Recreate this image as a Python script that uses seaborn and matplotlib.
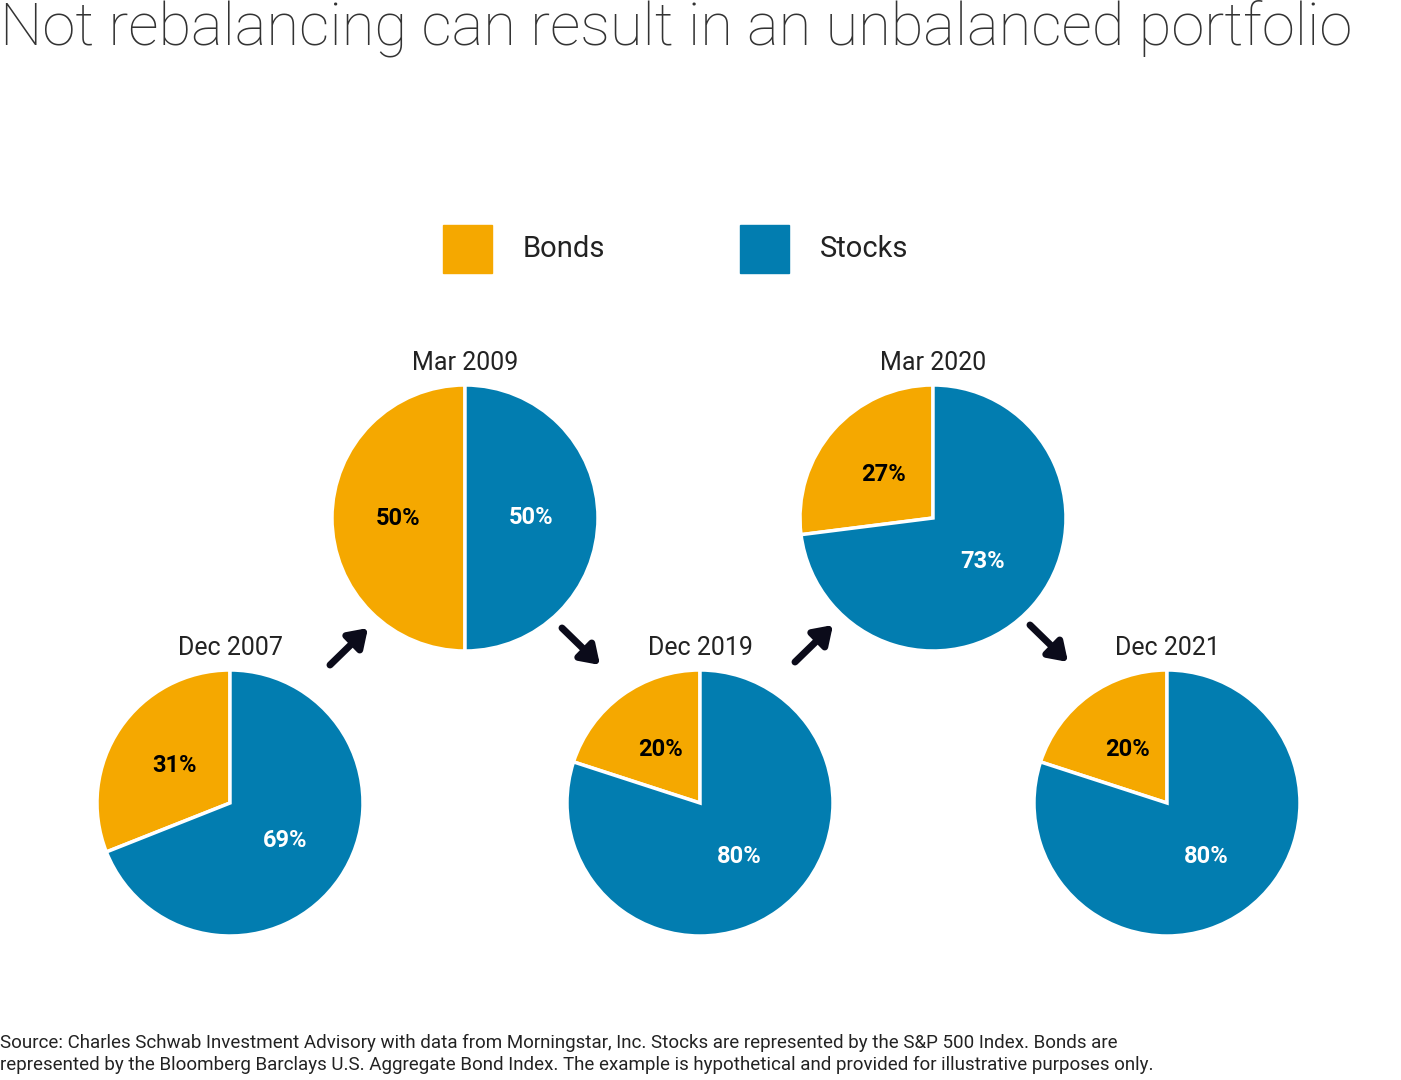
import matplotlib
matplotlib.use("Agg")
import matplotlib.pyplot as plt
import seaborn as sns

sns.set_theme(style="white")

dates = ["Dec 2007", "Mar 2009", "Dec 2019", "Mar 2020", "Dec 2021"]
bonds = [31, 50, 20, 27, 20]
stocks = [69, 50, 80, 73, 80]
series = ["Bonds", "Stocks"]
colors = ["#F5A800", "#027DB0"]

W, H = 1401, 1080
fig = plt.figure(figsize=(W / 100, H / 100), dpi=100)
ax = fig.add_axes([0, 0, 1, 1])
ax.set_xlim(0, W)
ax.set_ylim(0, H)
ax.set_aspect("equal")
ax.axis("off")

centers = [(230, 803), (465, 518), (700, 803), (933, 518), (1167, 803)]
R = 133
font = "Roboto"

for (cx, cy), d, b, s in zip(centers, dates, bonds, stocks):
    yc = H - cy
    wedges, texts, autotexts = ax.pie(
        [b, s], colors=colors, startangle=90, counterclock=True,
        center=(cx, yc), radius=R, autopct="%d%%", pctdistance=0.5,
        wedgeprops=dict(edgecolor="white", linewidth=2.5),
        textprops=dict(fontsize=17, fontweight="bold", family=font))
    autotexts[0].set_color("black")
    autotexts[1].set_color("white")
    ax.text(cx, yc + R + 10, d, ha="center", va="bottom", fontsize=18, family=font, color="#222222")

ax.set_xlim(0, W)
ax.set_ylim(0, H)

arrows = [((330, 665), (368, 628)), ((562, 628), (600, 665)),
          ((795, 662), (833, 625)), ((1030, 625), (1068, 662))]
for (x0, y0), (x1, y1) in arrows:
    ax.annotate("", xy=(x1, H - y1), xytext=(x0, H - y0),
                arrowprops=dict(arrowstyle="-|>,head_length=0.9,head_width=0.6",
                                lw=5, color="#0b0b1a", shrinkA=0, shrinkB=0))

# legend
for x, lab, c in [(443, "Bonds", colors[0]), (740, "Stocks", colors[1])]:
    ax.add_patch(plt.Rectangle((x, H - 273), 49, 48, color=c))
    ax.text(x + 80, H - 249, lab, ha="left", va="center", fontsize=21, family=font, color="#222222")

fig.text(0.0, 1 - 28 / H, "Not rebalancing can result in an unbalanced portfolio",
         ha="left", va="center", fontsize=43, family=font, fontweight="light", color="#333333")
fig.text(0.0, 1 - 1054 / H,
         "Source: Charles Schwab Investment Advisory with data from Morningstar, Inc. Stocks are represented by the S&P 500 Index. Bonds are\n"
         "represented by the Bloomberg Barclays U.S. Aggregate Bond Index. The example is hypothetical and provided for illustrative purposes only.",
         ha="left", va="center", fontsize=13.5, family=font, color="#222222", linespacing=1.3)

fig.savefig("out.png", dpi=100)
